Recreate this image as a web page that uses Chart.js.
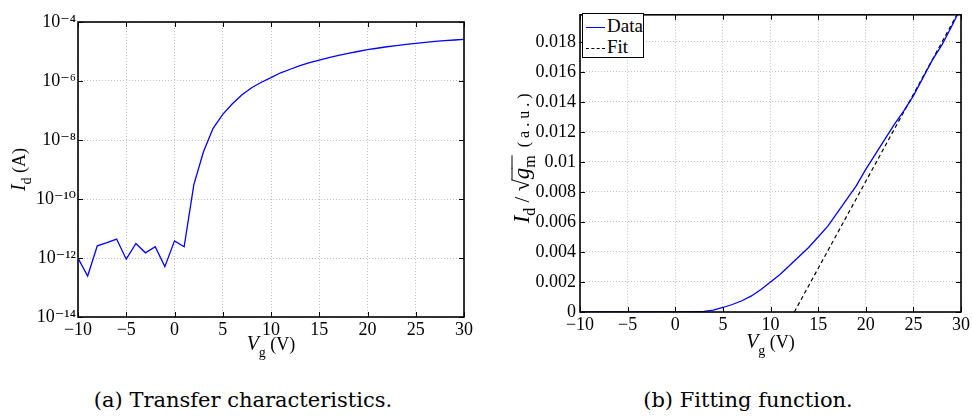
<!DOCTYPE html>
<html>
<head>
<meta charset="utf-8">
<script src="https://cdn.jsdelivr.net/npm/chart.js@4.4.0/dist/chart.umd.min.js"></script>
<style>
  html, body { margin: 0; padding: 0; background: #fff; }
  body { width: 972px; height: 416px; position: relative; overflow: hidden; font-family: "Liberation Serif", serif; }
  .box { position: absolute; top: 0; width: 486px; height: 360px; }
  .cap { position: absolute; top: 388px; font-family: "DejaVu Serif", serif; font-size: 21px; line-height: 24px; color: #000; white-space: nowrap; transform: translateX(-50%); }
  #legend { position: absolute; left: 582px; top: 13px; width: 60px; height: 43px; border: 1.5px solid #000; background: #fff; font-size: 19px; }
  #legend div { position: absolute; left: 3px; height: 20px; line-height: 20px; }
  #legend span.ln { display: inline-block; width: 19px; vertical-align: middle; margin-right: 2px; }
</style>
</head>
<body>
<div class="box" style="left:0"><canvas id="transferChart" width="486" height="360"></canvas></div>
<div class="box" style="left:486px"><canvas id="fitChart" width="486" height="360"></canvas></div>
<div id="legend">
  <div style="top:2px"><span class="ln" style="border-top:1.3px solid #0000ff"></span>Data</div>
  <div style="top:23px"><span class="ln" style="border-top:1.3px dashed #000"></span>Fit</div>
</div>
<div class="cap" style="left:243px">(a) Transfer characteristics.</div>
<div class="cap" style="left:748px">(b) Fitting function.</div>

<script>
// Dados
const vg = [-10, -9, -8, -7, -6, -5, -4, -3, -2, -1, 0, 1, 2, 3, 4, 5, 6, 7, 8, 9, 10,
  11, 12, 13, 14, 15, 16, 17, 18, 19, 20, 21, 22, 23, 24, 25, 26, 27, 28, 29, 30];

// Corrente de dreno (A), escala log
const idCurrent = [1.0e-12, 2.45e-13, 2.6e-12, 3.3e-12, 4.4e-12, 9.1e-13, 3.1e-12, 1.5e-12, 2.4e-12, 5.1e-13,
  3.8e-12, 2.4e-12, 3.0e-10, 4.0e-9, 2.5e-8, 7.4e-8, 1.7e-7, 3.4e-7, 5.9e-7, 9.1e-7,
  1.3e-6, 1.9e-6, 2.5e-6, 3.3e-6, 4.2e-6, 5.1e-6, 6.2e-6, 7.4e-6, 8.7e-6, 1.0e-5,
  1.15e-5, 1.29e-5, 1.45e-5, 1.58e-5, 1.74e-5, 1.9e-5, 2.04e-5, 2.19e-5, 2.34e-5, 2.45e-5, 2.57e-5];

// Id / sqrt(gm) (a.u.)
const idOverGm = [0, 0, 0, 0, 0, 0, 0, 0, 0, 0,
  0, 0.00001, 0.00002, 0.00004, 0.00013, 0.0003, 0.0005, 0.00075, 0.00107, 0.0015,
  0.002, 0.0025, 0.0031, 0.0037, 0.0043, 0.005, 0.0057, 0.0066, 0.0075, 0.0084,
  0.0095, 0.0105, 0.0115, 0.0125, 0.0134, 0.0144, 0.0156, 0.0168, 0.0178, 0.019, 0.0203];

// Reta de ajuste
const fitVg = [12.5, 30];
const fitValues = [0, 0.0203];

const logTicks = [1e-14, 1e-12, 1e-10, 1e-8, 1e-6, 1e-4];

const serif = '"Liberation Serif", "DejaVu Serif", serif';
Chart.defaults.font.family = serif;
Chart.defaults.color = '#000';
Chart.defaults.animation = false;

const supDigits = { '-': '\u207B', '0': '\u2070', '1': '\u00B9', '2': '\u00B2', '3': '\u00B3', '4': '\u2074',
  '5': '\u2075', '6': '\u2076', '7': '\u2077', '8': '\u2078', '9': '\u2079' };

function toSup(n) {
  return String(n).split('').map(c => supDigits[c]).join('');
}

function minusSign(v) {
  return String(v).replace('-', '\u2212');
}

// Desenha texto com partes (itálico, subscrito)
function drawParts(ctx, parts, cx, cy, rot) {
  ctx.save();
  ctx.translate(cx, cy);
  if (rot) ctx.rotate(rot);
  ctx.fillStyle = '#000';
  ctx.strokeStyle = '#000';
  ctx.textBaseline = 'alphabetic';
  let total = 0;
  parts.forEach(p => {
    ctx.font = p.font;
    p.w = ctx.measureText(p.text).width;
    total += p.w;
  });
  let x = -total / 2;
  parts.forEach(p => {
    ctx.font = p.font;
    ctx.fillText(p.text, x, p.dy || 0);
    if (p.bar) {
      ctx.lineWidth = 1;
      ctx.beginPath();
      ctx.moveTo(x - 1, p.bar);
      ctx.lineTo(x + p.w, p.bar);
      ctx.stroke();
    }
    x += p.w;
  });
  ctx.restore();
}

// Moldura com marcas internas (estilo MATLAB) e títulos dos eixos
function framePlugin(titles) {
  return {
    id: 'frame',
    afterDraw(chart) {
      const ctx = chart.ctx;
      const a = chart.chartArea;
      const xs = chart.scales.x;
      const ys = chart.scales.y;
      ctx.save();
      ctx.strokeStyle = '#000';
      ctx.lineWidth = 1;
      ctx.beginPath();
      xs.ticks.forEach(t => {
        const px = Math.round(xs.getPixelForValue(t.value)) + 0.5;
        ctx.moveTo(px, a.bottom); ctx.lineTo(px, a.bottom - 5);
        ctx.moveTo(px, a.top); ctx.lineTo(px, a.top + 5);
      });
      ys.ticks.forEach(t => {
        const py = Math.round(ys.getPixelForValue(t.value)) + 0.5;
        ctx.moveTo(a.left, py); ctx.lineTo(a.left + 5, py);
        ctx.moveTo(a.right, py); ctx.lineTo(a.right - 5, py);
      });
      ctx.stroke();
      ctx.lineWidth = 1.6;
      ctx.strokeRect(a.left, a.top, a.right - a.left, a.bottom - a.top);
      ctx.restore();

      drawParts(ctx, titles.x.parts, (a.left + a.right) / 2, titles.x.y);
      drawParts(ctx, titles.y.parts, titles.y.x, (a.top + a.bottom) / 2 + (titles.y.dy || 0), -Math.PI / 2);
    }
  };
}

const big = 'italic 20px ' + serif;
const sub = '14px ' + serif;
const reg = '18px ' + serif;

const xParts = [
  { text: 'V', font: big },
  { text: 'g', font: sub, dy: 7 },
  { text: ' (V)', font: reg }
];

const gridOpts = { color: '#bfbfbf', drawTicks: false, lineWidth: 1 };
const borderOpts = { display: false, dash: [1, 2] };
const tickFont = { size: 18, family: serif };

// Gráfico (a): característica de transferência
new Chart(document.getElementById('transferChart'), {
  type: 'line',
  data: {
    datasets: [{
      label: 'Id',
      data: vg.map((v, i) => ({ x: v, y: idCurrent[i] })),
      borderColor: '#0000ff',
      borderWidth: 1.3,
      pointRadius: 0,
      tension: 0
    }]
  },
  options: {
    responsive: false,
    layout: { padding: { top: 22, right: 22, left: 0, bottom: 0 } },
    plugins: { legend: { display: false }, tooltip: { enabled: false } },
    scales: {
      x: {
        type: 'linear', min: -10, max: 30,
        ticks: { stepSize: 5, font: tickFont, padding: 2, maxRotation: 0, callback: v => minusSign(v) },
        grid: gridOpts, border: borderOpts,
        afterFit: s => { s.height = 43; }
      },
      y: {
        type: 'logarithmic', min: 1e-14, max: 1e-4,
        afterBuildTicks: s => { s.ticks = logTicks.map(v => ({ value: v })); },
        ticks: { font: tickFont, padding: 2, callback: v => '10' + toSup(Math.round(Math.log10(v))) },
        grid: gridOpts, border: borderOpts,
        afterFit: s => { s.width = 78; }
      }
    }
  },
  plugins: [framePlugin({
    x: { y: 350, parts: xParts },
    y: { x: 25, dy: 0, parts: [
      { text: 'I', font: big },
      { text: 'd', font: sub, dy: 6 },
      { text: ' (A)', font: reg }
    ] }
  })]
});

// Gráfico (b): função de ajuste
new Chart(document.getElementById('fitChart'), {
  type: 'line',
  data: {
    datasets: [{
      label: 'Data',
      data: vg.map((v, i) => ({ x: v, y: idOverGm[i] })),
      borderColor: '#0000ff',
      borderWidth: 1.3,
      pointRadius: 0,
      tension: 0
    }, {
      label: 'Fit',
      data: fitVg.map((v, i) => ({ x: v, y: fitValues[i] })),
      borderColor: '#000',
      borderWidth: 1.2,
      borderDash: [4, 3],
      pointRadius: 0,
      tension: 0
    }]
  },
  options: {
    responsive: false,
    layout: { padding: { top: 11, right: 10, left: 0, bottom: 0 } },
    plugins: { legend: { display: false }, tooltip: { enabled: false } },
    scales: {
      x: {
        type: 'linear', min: -10, max: 30,
        ticks: { stepSize: 5, font: tickFont, padding: 2, maxRotation: 0, callback: v => minusSign(v) },
        grid: gridOpts, border: borderOpts,
        afterFit: s => { s.height = 48; }
      },
      y: {
        type: 'linear', min: 0, max: 0.0198,
        ticks: { stepSize: 0.002, includeBounds: false, font: tickFont, padding: 4,
          callback: v => String(Number(v.toFixed(4))) },
        grid: gridOpts, border: borderOpts,
        afterFit: s => { s.width = 94; }
      }
    }
  },
  plugins: [framePlugin({
    x: { y: 348, parts: xParts },
    y: { x: 43, dy: -5, parts: [
      { text: 'I', font: 'italic 23px ' + serif },
      { text: 'd', font: '16px ' + serif, dy: 6 },
      { text: ' / ', font: '21px ' + serif },
      { text: '\u221A', font: '22px ' + serif },
      { text: 'g', font: 'italic 23px ' + serif, bar: -17 },
      { text: 'm', font: '16px ' + serif, dy: 6, bar: -17 },
      { text: '  ( a . u . )', font: '16px ' + serif }
    ] }
  })]
});
</script>
</body>
</html>
